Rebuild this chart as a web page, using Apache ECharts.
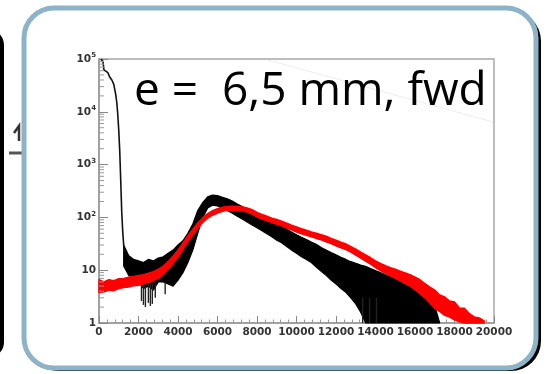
<!DOCTYPE html>
<html>
<head>
<meta charset="utf-8">
<script src="https://cdn.jsdelivr.net/npm/echarts@6/dist/echarts.min.js"></script>
<style>
  html, body { margin: 0; padding: 0; background: #fff; }
  #wrap { position: relative; width: 547px; height: 374px; overflow: hidden; }
  #slide, #plot { position: absolute; left: 0; top: 0; width: 547px; height: 374px; }
  #plot { filter: blur(0.5px); }
</style>
</head>
<body>
<div id="wrap"><div id="slide"></div><div id="plot"></div></div>
<script>
// Histogram of collected charge, log scale, two runs (black / red).

// Early spike of the black run (thin line)
const peakX = [100, 200, 250, 350, 450, 550, 650, 750, 850, 900, 950, 1000, 1050, 1100, 1150, 1200, 1250, 1300];
const peakY = [100000, 90000, 62000, 58000, 55000, 45000, 40000, 33000, 21000, 15000, 9000, 4500, 1800, 500, 130, 55, 30, 22];

// Black run: noisy band, upper and lower envelope of the bin contents
const blackX = [1250, 1500, 1750, 2000, 2250, 2500, 2750, 3000, 3250, 3500, 3750, 4000, 4250, 4500, 4750, 5000,
  5250, 5500, 5750, 6000, 6250, 6500, 6750, 7000, 7250, 7500, 7750, 8000, 8250, 8500, 8750, 9000,
  9250, 9500, 9750, 10000, 10250, 10500, 10750, 11000, 11250, 11500, 11750, 12000, 12250, 12500, 12750, 13000,
  13250, 13500, 13750, 14000, 14250, 14500, 14750, 15000, 15250, 15500, 15750, 16000, 16250, 16500, 16750, 17000, 17250];
const blackUp = [30, 19, 16, 15, 14, 16, 15, 17, 18, 21, 24, 30, 36, 50, 75, 135,
  190, 245, 265, 258, 240, 225, 205, 180, 160, 145, 132, 120, 108, 97, 87, 76,
  68, 60, 53, 47, 42, 38, 34, 31, 27, 24, 21.5, 19.5, 17.5, 16, 14.5, 13.5,
  12.5, 11.8, 10.8, 9.8, 9.0, 8.2, 7.5, 6.9, 6.2, 5.5, 4.8, 4.2, 3.7, 3.1, 2.6, 2.1, 1.0];
const blackLo = [12, 8, 7, 6, 4.5, 5, 4.2, 6, 6, 5.5, 5, 6.5, 9, 14, 24, 50,
  100, 150, 170, 165, 150, 135, 120, 105, 93, 82, 72, 64, 56, 49, 43, 37,
  33, 28, 24, 21, 18, 16, 14, 11.5, 9.5, 8, 6.5, 5.5, 4.5, 3.8, 3.0, 2.3,
  1.6, 1.0, 1.0, 1.0, 1.0, 1.0, 1.0, 1.0, 1.0, 1.0, 1.0, 1.0, 1.0, 1.0, 1.0, 1.0, 1.0];
// Low-going fluctuations of single bins: [x, from, to]
const blackSpikes = [[2150, 6, 2.6], [2250, 6, 2.2], [2350, 6, 2.0], [2500, 6, 2.4], [2600, 6, 2.1],
  [2700, 6, 2.3], [2850, 6, 3.0], [3350, 6, 3.5], [13350, 3, 1], [13700, 3, 1], [14050, 3, 1]];

// Red run: band, upper and lower envelope
const redX = [0, 250, 500, 750, 1000, 1250, 1500, 1750, 2000, 2250, 2500, 2750, 3000, 3250, 3500, 3750,
  4000, 4250, 4500, 4750, 5000, 5250, 5500, 5750, 6000, 6250, 6500, 6750, 7000, 7250, 7500, 7750,
  8000, 8250, 8500, 8750, 9000, 9250, 9500, 9750, 10000, 10250, 10500, 10750, 11000, 11250, 11500, 11750,
  12000, 12250, 12500, 12750, 13000, 13250, 13500, 13750, 14000, 14250, 14500, 14750, 15000, 15250, 15500, 15750,
  16000, 16250, 16500, 16750, 17000, 17250, 17500, 17750, 18000, 18250, 18500, 18750, 19000, 19250, 19500];
const redUp = [6.6, 6.0, 6.6, 6.3, 6.9, 7.0, 7.4, 7.6, 7.9, 8.2, 8.8, 9.4, 10.4, 12, 14.5, 18.5,
  24, 33, 45, 60, 78, 99, 118, 134, 146, 155, 161, 163, 162, 158, 151, 140,
  124, 114, 105, 97, 91, 85, 78, 71, 66, 61, 57, 53, 50, 47, 44, 40,
  37, 34, 31.5, 28, 25, 22, 19.5, 17.2, 15, 13.4, 12.2, 11.2, 10.4, 9.6, 8.9, 8.2,
  7.4, 6.6, 5.6, 4.8, 4.2, 3.4, 3.1, 2.6, 2.5, 1.9, 1.9, 1.5, 1.3, 1.25, 1.1];
const redLo = [3.8, 3.9, 4.2, 4.1, 4.5, 4.7, 4.8, 5.1, 5.2, 5.5, 5.9, 6.4, 7.1, 8.3, 10.6, 13.6,
  18, 25, 35, 47, 62, 80, 97, 110, 121, 130, 136, 138, 137, 133, 126, 116,
  102, 93, 86, 80, 74, 69, 63, 58, 53, 49, 46, 43, 40, 37.5, 34.5, 32,
  29, 26.5, 24.5, 22, 19.3, 17, 14.8, 13, 11.2, 9.8, 8.7, 7.8, 7.0, 6.3, 5.6, 5.0,
  4.3, 3.6, 3.0, 2.4, 1.9, 1.65, 1.4, 1.3, 1.15, 1.05, 1.0, 1.0, 1.0, 1.0, 1.0];

// Log-axis minor tick positions (2..9 of each decade)
const yMinorTicks = [2, 3, 4, 5, 6, 7, 8, 9, 20, 30, 40, 50, 60, 70, 80, 90,
  200, 300, 400, 500, 600, 700, 800, 900, 2000, 3000, 4000, 5000, 6000, 7000, 8000, 9000,
  20000, 30000, 40000, 50000, 60000, 70000, 80000, 90000];

const titleText = 'e =  6,5 mm, fwd';

const labelFont = '"DejaVu Sans", "Liberation Sans", sans-serif';

// ---------- slide frame and title ----------
const slide = echarts.init(document.getElementById('slide'), null, { renderer: 'canvas' });
slide.setOption({
  backgroundColor: '#ffffff',
  graphic: [
    // edge of the neighbouring box
    { type: 'rect', shape: { x: -60, y: 31, width: 62, height: 325, r: 14 },
      style: { fill: 'none', stroke: '#000', lineWidth: 4 } },
    { type: 'polyline', shape: { points: [[14, 133], [19, 126], [19, 141]] },
      style: { stroke: '#333', lineWidth: 2.5, fill: 'none' } },
    { type: 'line', shape: { x1: 9, y1: 153, x2: 23, y2: 153 },
      style: { stroke: '#555', lineWidth: 3 } },
    // drop shadow of the main box
    { type: 'rect', shape: { x: 29, y: 11, width: 512, height: 360, r: 30 },
      style: { fill: '#000' } },
    // main box
    { type: 'rect', shape: { x: 24, y: 8, width: 512, height: 360, r: 30 },
      style: { fill: '#fff', stroke: '#8db3c8', lineWidth: 5 } },
    // faint stray line in the plot
    { type: 'line', shape: { x1: 268, y1: 60, x2: 493, y2: 122 },
      style: { stroke: '#ededed', lineWidth: 1 } },
    { type: 'text', x: 134, y: 92, z: 10,
      style: { text: titleText, font: '46px "Open Sans", sans-serif', fill: '#000',
               textAlign: 'left', textVerticalAlign: 'middle' } }
  ]
});

// ---------- histogram ----------
const plot = echarts.init(document.getElementById('plot'), null, { renderer: 'canvas' });

function bandRenderer(xs, up, lo, color, strokeW) {
  return function (params, api) {
    const pts = [];
    for (let i = 0; i < xs.length; i++) pts.push(api.coord([xs[i], up[i]]));
    for (let i = xs.length - 1; i >= 0; i--) pts.push(api.coord([xs[i], lo[i]]));
    return { type: 'polygon', shape: { points: pts },
             style: { fill: color, stroke: color, lineWidth: strokeW, lineJoin: 'round' } };
  };
}

plot.setOption({
  backgroundColor: 'transparent',
  animation: false,
  grid: { left: 99, right: 53, top: 59, bottom: 51, containLabel: false, outerBoundsMode: 'none',
          show: true, borderColor: '#a8a8a8', borderWidth: 1.5, backgroundColor: 'transparent' },
  xAxis: {
    type: 'value', min: 0, max: 20000, interval: 2000,
    axisLine: { show: true, lineStyle: { color: '#999', width: 1.5 } },
    axisTick: { show: true, inside: true, length: 7, lineStyle: { color: '#888', width: 1 } },
    minorTick: { show: true, splitNumber: 5, length: 3.5, lineStyle: { color: '#999', width: 1 } },
    splitLine: { show: false },
    axisLabel: { margin: 4, fontFamily: labelFont, fontWeight: 'bold', fontSize: 10.5, color: '#333',
                 formatter: function (v) { return String(v); } }
  },
  yAxis: {
    type: 'log', logBase: 10, min: 1, max: 100000,
    axisLine: { show: true, lineStyle: { color: '#999', width: 1.5 } },
    axisTick: { show: true, inside: true, length: 9, lineStyle: { color: '#888', width: 1 } },
    splitLine: { show: false },
    axisLabel: {
      margin: 3, color: '#333',
      formatter: function (v) {
        const e = Math.round(Math.log10(v));
        if (e === 0) return '{b|1}';
        if (e === 1) return '{b|10}';
        return '{b|10}{s|' + e + '}';
      },
      rich: {
        b: { fontFamily: labelFont, fontWeight: 'bold', fontSize: 10.5, color: '#333', lineHeight: 14 },
        s: { fontFamily: labelFont, fontWeight: 'bold', fontSize: 7, color: '#333', verticalAlign: 'top', lineHeight: 14, padding: [0, 0, 5, 0] }
      }
    }
  },
  series: [
    {
      name: 'black spike', type: 'line', showSymbol: false, silent: true,
      data: peakX.map((x, i) => [x, peakY[i]]),
      lineStyle: { color: '#111', width: 1.6 }, z: 2
    },
    {
      name: 'black band', type: 'custom', silent: true, z: 2,
      data: [0],
      renderItem: bandRenderer(blackX, blackUp, blackLo, '#000', 1.2)
    },
    {
      name: 'black fluctuations', type: 'custom', silent: true, z: 2,
      data: blackSpikes,
      renderItem: function (params, api) {
        const a = api.coord([api.value(0), api.value(1)]);
        const b = api.coord([api.value(0), api.value(2)]);
        return { type: 'line', shape: { x1: a[0], y1: a[1], x2: b[0], y2: b[1] },
                 style: { stroke: '#222', lineWidth: 1.4 } };
      }
    },
    {
      name: 'red band', type: 'custom', silent: true, z: 3,
      data: [0],
      renderItem: bandRenderer(redX, redUp, redLo, '#ff0000', 1.5)
    },
    {
      name: 'minor ticks', type: 'custom', silent: true, z: 4,
      data: yMinorTicks.map(v => [0, v]),
      renderItem: function (params, api) {
        const p = api.coord([0, api.value(1)]);
        return { type: 'line', shape: { x1: p[0], y1: p[1], x2: p[0] + 5, y2: p[1] },
                 style: { stroke: '#999', lineWidth: 1 } };
      }
    }
  ]
});
</script>
</body>
</html>
